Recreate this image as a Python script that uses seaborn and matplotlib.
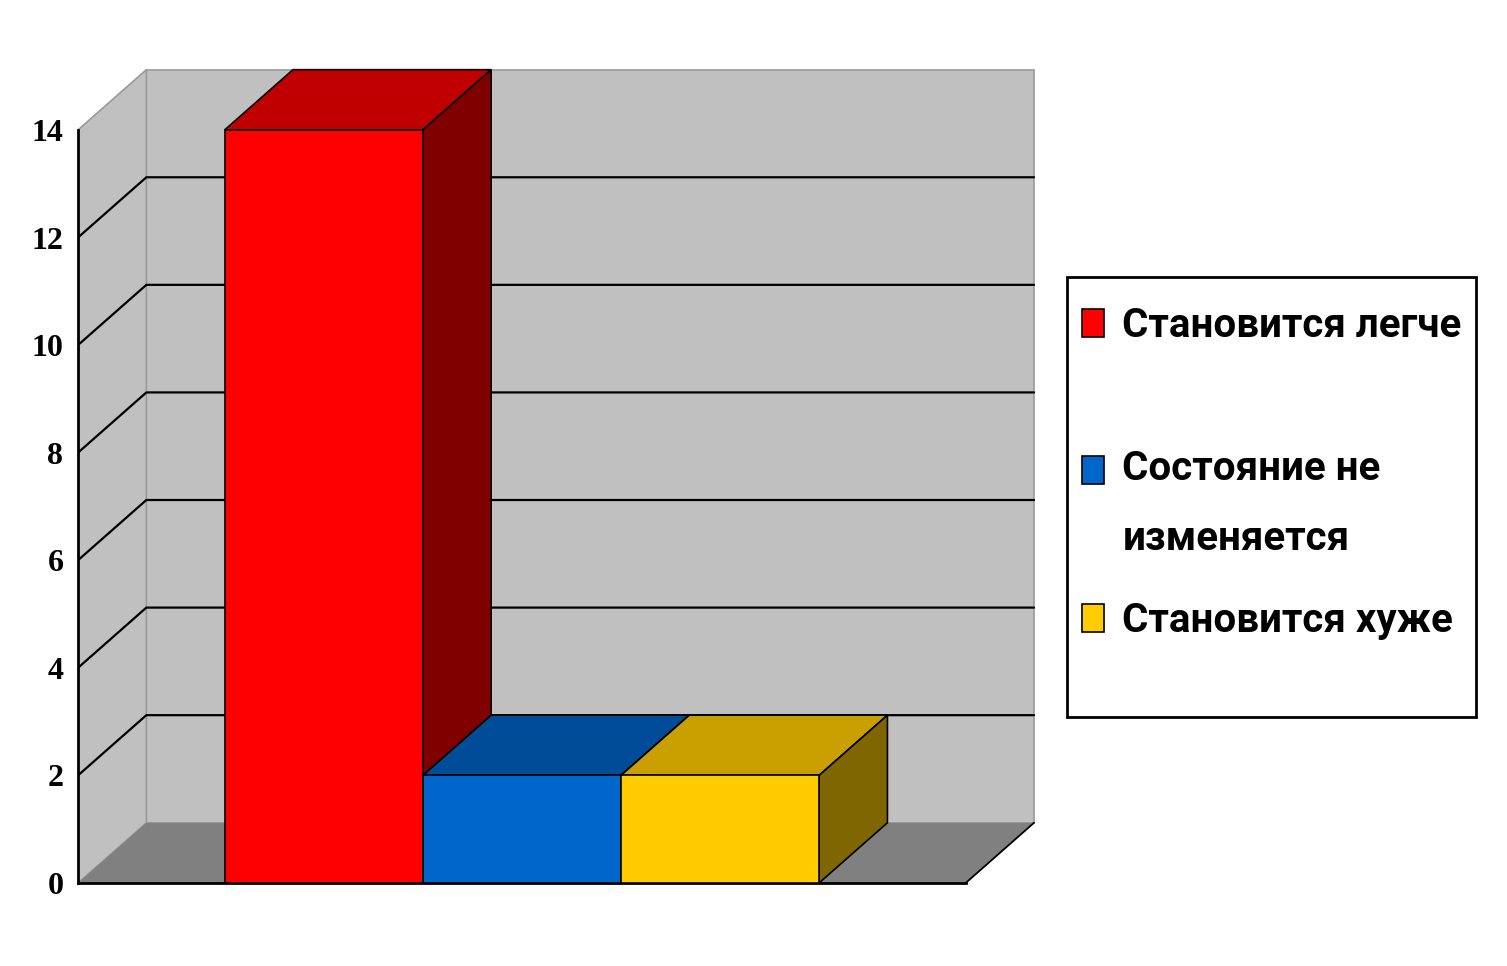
import matplotlib
matplotlib.use("Agg")
import matplotlib.pyplot as plt
from matplotlib.patches import Polygon, Rectangle
import seaborn as sns

# data
categories = ["Становится легче", "Состояние не изменяется", "Становится хуже"]
legend_labels = ["Становится легче", "Состояние не\nизменяется", "Становится хуже"]
values = [14, 2, 2]
front_colors = ["#ff0000", "#0066cc", "#ffcc00"]
top_colors = ["#c00000", "#004c99", "#c9a000"]
side_colors = ["#800000", "#003366", "#806600"]
y_ticks = [0, 2, 4, 6, 8, 10, 12, 14]

sns.set_style("white")
plt.rcParams["font.family"] = ["Roboto", "DejaVu Sans"]
plt.rcParams["text.color"] = "black"
plt.rcParams["ytick.labelcolor"] = "black"

fig = plt.figure(figsize=(15.07, 9.66), dpi=100)
ax = fig.add_axes([78 / 1507, 83 / 966, 962 / 1507, 823 / 966])
ax.patch.set_visible(False)

sns.barplot(x=categories, y=values, hue=categories, palette=front_colors,
            width=1, dodge=False, legend=False, saturation=1, errorbar=None,
            edgecolor="black", linewidth=1.2, ax=ax)
bars = list(ax.patches)

# pseudo 3d frame
xl, xr = -1.24, 3.24
dx, dy = 0.345, 1.12
ytop = y_ticks[-1]
ax.set_xlim(xl, xr + dx + 0.03)
ax.set_ylim(0, 15.3)

wall_c = "#c0c0c0"
ax.add_patch(Rectangle((xl + dx, dy), xr - xl, ytop, fc=wall_c, ec="#9a9a9a", lw=1.2, zorder=0.5))
ax.add_patch(Polygon([(xl, 0), (xl, ytop), (xl + dx, ytop + dy), (xl + dx, dy)],
                     closed=True, fc=wall_c, ec="#9a9a9a", lw=1.2, zorder=0.5))
ax.add_patch(Polygon([(xl, 0), (xr, 0), (xr + dx, dy), (xl + dx, dy)],
                     closed=True, fc="#808080", ec="none", zorder=0.6))
ax.plot([xr, xr + dx], [0, dy], color="black", lw=1.3, zorder=0.7)
for t in y_ticks[1:-1]:
    ax.plot([xl, xl + dx, xr + dx], [t, t + dy, t + dy], color="black", lw=1.6, zorder=0.8)

# top and side faces of the bars
for i, p in enumerate(bars):
    x0, w, h = p.get_x(), p.get_width(), p.get_height()
    p.set_zorder(3 + 3 * i + 2)
    ax.add_patch(Polygon([(x0, h), (x0 + w, h), (x0 + w + dx, h + dy), (x0 + dx, h + dy)],
                         closed=True, fc=top_colors[i], ec="black", lw=1.2, zorder=3 + 3 * i + 1))
    ax.add_patch(Polygon([(x0 + w, 0), (x0 + w, h), (x0 + w + dx, h + dy), (x0 + w + dx, dy)],
                         closed=True, fc=side_colors[i], ec="black", lw=1.2, zorder=3 + 3 * i + 1))

# axes
for s in ["top", "right"]:
    ax.spines[s].set_visible(False)
for s in ["left", "bottom"]:
    ax.spines[s].set_color("black")
    ax.spines[s].set_linewidth(2)
ax.spines["left"].set_bounds(0, ytop)
ax.spines["bottom"].set_bounds(xl, xr)
ax.set_yticks(y_ticks)
ax.set_yticklabels([str(t) for t in y_ticks],
                   fontdict={"family": "Liberation Serif", "weight": "bold", "size": 23})
ax.set_xticks([xl, xr])
ax.set_xticklabels(["", ""])
ax.tick_params(axis="both", direction="out", length=4.5, width=1.5, color="black", pad=6)
ax.set_xlabel("")
ax.set_ylabel("")

# legend
fig.add_artist(Rectangle((1067 / 1507, 1 - 717 / 966), 409 / 1507, 440 / 966,
                         transform=fig.transFigure, fc="white", ec="black", lw=2, zorder=1))
prop = {"family": ["Roboto", "DejaVu Sans"], "weight": "bold", "size": 29}
common = dict(loc="upper left", frameon=False, borderpad=0, borderaxespad=0,
              handlelength=0.55, handleheight=0.68, handletextpad=0.45, prop=prop)
leg1 = fig.legend(handles=bars[:1], labels=legend_labels[:1],
                  bbox_to_anchor=(1082 / 1507, 1 - 307 / 966), **common)
leg2 = fig.legend(handles=bars[1:], labels=legend_labels[1:],
                  bbox_to_anchor=(1082 / 1507, 1 - 450 / 966), labelspacing=1.1, **common)
leg2.get_texts()[0].set_linespacing(2.05)
h2 = leg2.legend_handles[0]
h2.set_y(h2.get_y() + 25)

fig.savefig("out.png", dpi=100, facecolor="white")
